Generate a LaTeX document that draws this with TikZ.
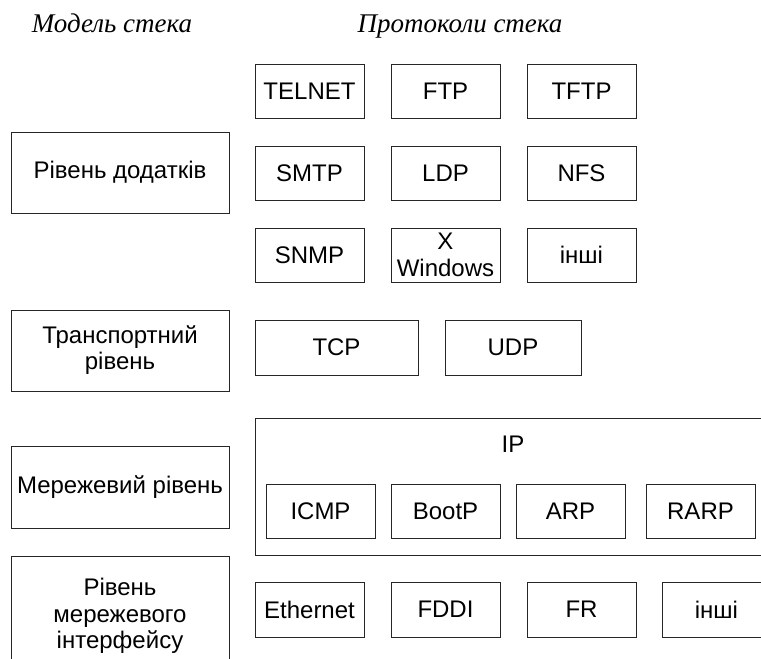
\documentclass[tikz,border=0pt]{standalone}
\usepackage{fontspec}
\setmainfont{Liberation Sans}
\newfontfamily\titlefont{Liberation Serif}
\begin{document}
\begin{tikzpicture}[x=1pt,y=-1pt,
  box/.style={draw=black!85,line width=0.9pt,rectangle,inner sep=0pt,align=center,
    font=\fontsize{24}{26}\selectfont},
  sbox/.style={box,minimum width=109pt,minimum height=54pt},
  layer/.style={box,minimum width=218pt,minimum height=81pt},
  ttl/.style={font=\titlefont\itshape\fontsize{27}{29}\selectfont,anchor=base,inner sep=0pt}]
\useasboundingbox (0,0) rectangle (761,659);
\clip (0,0) rectangle (761,659);
% titles
\node[ttl] (tmodel) at (112,32) {Модель стека};
\node[ttl] (tproto) at (460,32) {Протоколи стека};
% model layers
\node[layer] (app) at (120,172.5) {Рівень додатків};
\node[layer] (trans) at (120,350.5) {Транспортний\\рівень};
\node[layer,minimum height=82pt] (net) at (120,487) {Мережевий рівень};
\node[layer,minimum height=120pt,font=\fontsize{24}{26.5}\selectfont] (iface) at (120,616) {Рівень\\мережевого\\інтерфейсу};
% application protocols
\node[sbox] (telnet) at (309.5,91) {TELNET};
\node[sbox] (ftp) at (445.5,91) {FTP};
\node[sbox] (tftp) at (581.5,91) {TFTP};
\node[sbox] (smtp) at (309.5,173) {SMTP};
\node[sbox] (ldp) at (445.5,173) {LDP};
\node[sbox] (nfs) at (581.5,173) {NFS};
\node[sbox] (snmp) at (309.5,255) {SNMP};
\node[sbox,font=\fontsize{24}{27}\selectfont] (xwin) at (445.5,255) {X\\Windows};
\node[sbox] (other1) at (581.5,255) {інші};
% transport
\node[box,minimum width=163pt,minimum height=55pt] (tcp) at (336.5,347.5) {TCP};
\node[box,minimum width=136pt,minimum height=55pt] (udp) at (513,347.5) {UDP};
% network
\node[box,minimum width=515pt,minimum height=137pt] (ip) at (512.5,486.5) {};
\node[inner sep=0pt,font=\fontsize{24}{26}\selectfont] (iplbl) at (513,444) {IP};
\node[sbox] (icmp) at (320.5,511) {ICMP};
\node[sbox] (bootp) at (445.5,511) {BootP};
\node[sbox] (arp) at (570.5,511) {ARP};
\node[sbox] (rarp) at (700.5,511) {RARP};
% interface
\node[sbox,minimum height=55pt] (eth) at (309.5,609.5) {Ethernet};
\node[sbox,minimum height=55pt] (fddi) at (445.5,609.5) {FDDI};
\node[sbox,minimum height=55pt] (fr) at (581.5,609.5) {FR};
\node[sbox,minimum height=55pt] (other2) at (716.5,609.5) {інші};
\end{tikzpicture}
\end{document}
